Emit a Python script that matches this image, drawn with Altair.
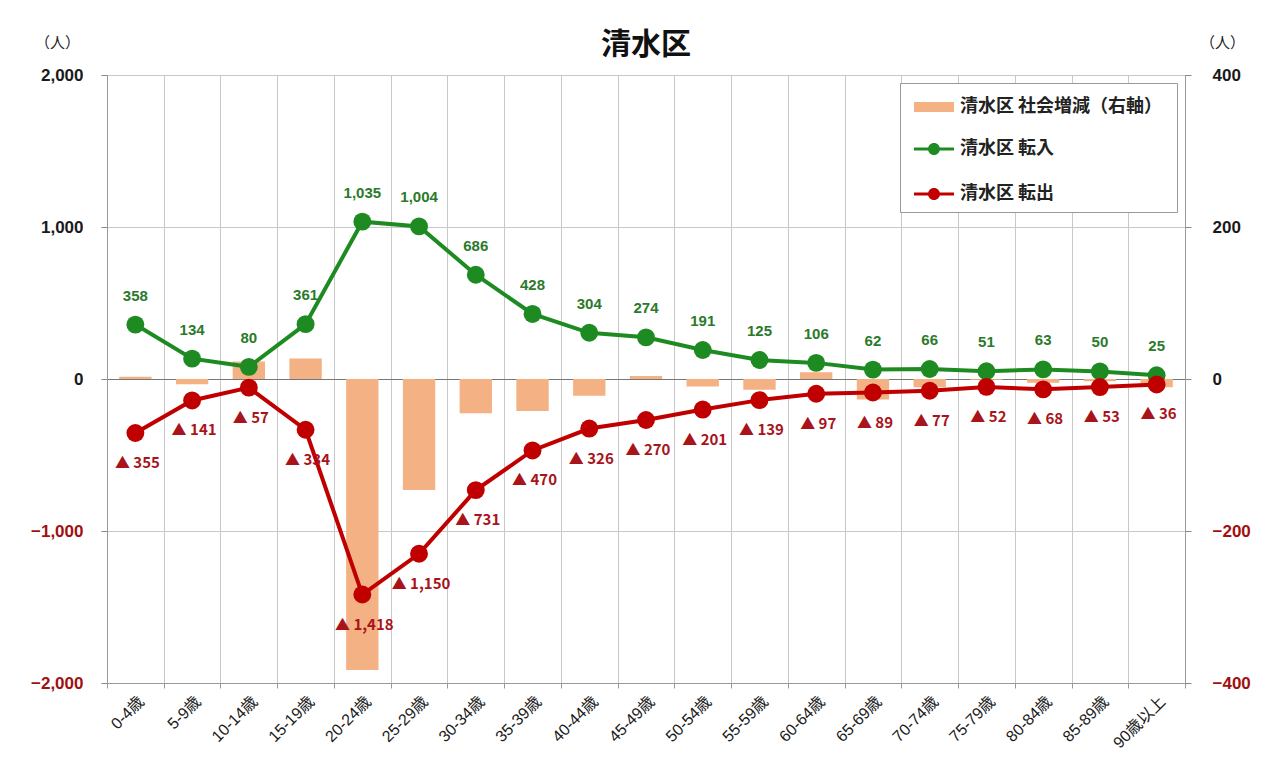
import altair as alt
import pandas as pd

categories = ["0-4歳", "5-9歳", "10-14歳", "15-19歳", "20-24歳", "25-29歳", "30-34歳",
              "35-39歳", "40-44歳", "45-49歳", "50-54歳", "55-59歳", "60-64歳", "65-69歳",
              "70-74歳", "75-79歳", "80-84歳", "85-89歳", "90歳以上"]
inflow = [358, 134, 80, 361, 1035, 1004, 686, 428, 304, 274, 191, 125, 106, 62, 66, 51, 63, 50, 25]
outflow = [355, 141, 57, 334, 1418, 1150, 731, 470, 326, 270, 201, 139, 97, 89, 77, 52, 68, 53, 36]
social = [3, -7, 23, 27, -383, -146, -45, -42, -22, 4, -10, -14, 9, -27, -11, -1, -5, -3, -11]

S_BAR = "清水区 社会増減（右軸）"
S_IN = "清水区 転入"
S_OUT = "清水区 転出"

bar_df = pd.DataFrame({"cat": categories, "series": S_BAR, "value": social})
line_df = pd.concat([
    pd.DataFrame({"cat": categories, "series": S_IN, "value": inflow,
                  "label": [f"{v:,}" for v in inflow]}),
    pd.DataFrame({"cat": categories, "series": S_OUT, "value": [-v for v in outflow],
                  "label": [f"▲ {v:,}" for v in outflow]}),
], ignore_index=True)

JP = "Noto Sans CJK JP"
NUM = "Liberation Sans"
MIX = "Liberation Sans, Noto Sans CJK JP"

line_scale = alt.Scale(domain=[S_IN, S_OUT], range=["#1E8B22", "#C00000"])
bar_scale = alt.Scale(domain=[S_BAR], range=["#F4B183"])

# legend symbol shapes (unit = 10px for symbolSize 400)
bar_path = "M-1,-0.5H3V0.5H-1Z"
line_path = "M-1,-0.15H3V0.15H-1ZM1.6,0A0.6,0.6,0,1,1,0.4,0A0.6,0.6,0,1,1,1.6,0Z"

common_legend = dict(
    orient="none", legendX=793, symbolSize=400, symbolStrokeWidth=0,
    labelFont=JP, labelFontSize=18, labelFontWeight="bold", labelColor="#222",
    labelOffset=26, labelLimit=400, padding=14,
)
# boxed legend (bar entry on top, blank space below for the line entries)
legend_bar = alt.Legend(
    legendY=8, symbolType=bar_path, zindex=1,
    fillColor="white", strokeColor="#999",
    title="\u3000", titleOrient="bottom", titleFontSize=80, titlePadding=3, titleFont=JP,
    **common_legend,
)
legend_line = alt.Legend(title=None, legendY=50, symbolType=line_path, zindex=3,
                         rowPadding=26, **common_legend)

x_enc = alt.X("cat:N", sort=categories, title=None,
              scale=alt.Scale(paddingInner=0, paddingOuter=0),
              axis=alt.Axis(labelAngle=-45, labelFont=MIX, labelFontSize=16, labelColor="#1a1a1a",
                            grid=True, gridColor="#c8c8c8", tickBand="extent",
                            domainColor="#999", tickColor="#999", tickSize=5, labelPadding=5))

bars = alt.Chart(bar_df).mark_bar(width=alt.RelativeBandSize(0.57)).encode(
    x=x_enc,
    y=alt.Y("value:Q", scale=alt.Scale(domain=[-400, 400], nice=False),
            axis=alt.Axis(orient="right", values=[-400, -200, 0, 200, 400], grid=False,
                          format=",d", labelFont=NUM, labelFontSize=17, labelFontWeight="bold",
                          labelColor={"condition": {"test": "datum.value < 0", "value": "#A01010"},
                                      "value": "#1a1a1a"},
                          labelPadding=21, tickSize=6, tickColor="#888", domainColor="#999",
                          title="（人）", titleAngle=0, titleX=37, titleY=-33,
                          titleAlign="center", titleBaseline="middle",
                          titleFont=JP, titleFontSize=15, titleFontWeight="normal", titleColor="#222")),
    fill=alt.Fill("series:N", scale=bar_scale, legend=legend_bar),
)

y_left = alt.Scale(domain=[-2000, 2000], nice=False)
y_left_axis = alt.Axis(orient="left", values=[-2000, -1000, 0, 1000, 2000], format=",d",
                       grid=True,
                       gridColor={"condition": {"test": "datum.value === 0", "value": "#777"},
                                  "value": "#c8c8c8"},
                       labelFont=NUM, labelFontSize=17, labelFontWeight="bold",
                       labelColor={"condition": {"test": "datum.value < 0", "value": "#A01010"},
                                   "value": "#1a1a1a"},
                       labelPadding=18, tickSize=6, tickColor="#888", domainColor="#999",
                       title="（人）", titleAngle=0, titleX=-50, titleY=-33,
                       titleAlign="center", titleBaseline="middle",
                       titleFont=JP, titleFontSize=15, titleFontWeight="normal", titleColor="#222")
y_enc = alt.Y("value:Q", scale=y_left, axis=y_left_axis)

lines = alt.Chart(line_df).mark_line().encode(
    x=x_enc, y=y_enc,
    color=alt.Color("series:N", scale=line_scale, legend=legend_line),
    strokeWidth=alt.value(4),
    detail="series:N",
)

points = alt.Chart(line_df).mark_point(filled=True, opacity=1).encode(
    x=x_enc, y=y_enc,
    color=alt.Color("series:N", scale=line_scale, legend=legend_line),
    size=alt.value(320),
)

text_in = alt.Chart(line_df).transform_filter(alt.datum.series == S_IN).mark_text(
    dy=-29, font=NUM, fontSize=15, fontWeight="bold", color="#2B7A2B"
).encode(x=x_enc, y=y_enc, text="label:N")

text_out = alt.Chart(line_df).transform_filter(alt.datum.series == S_OUT).mark_text(
    dy=30, dx=2, font=JP, fontSize=15, fontWeight="bold", color="#A8141A"
).encode(x=x_enc, y=y_enc, text="label:N")

inner = alt.layer(lines, points, text_in, text_out)

chart = alt.layer(bars, inner).resolve_scale(y="independent").properties(
    width=1078, height=608,
    padding={"left": 99, "top": 67, "right": 86, "bottom": 77},
    autosize=alt.AutoSizeParams(type="none"),
    title=alt.TitleParams("清水区", font=JP, fontSize=30, fontWeight="bold", color="#111",
                          anchor="middle", frame="group", offset=-40, baseline="middle"),
    background="white",
).configure_view(stroke="#aaa")

chart.save("out.html", embed_options={"renderer": "svg", "actions": False})
